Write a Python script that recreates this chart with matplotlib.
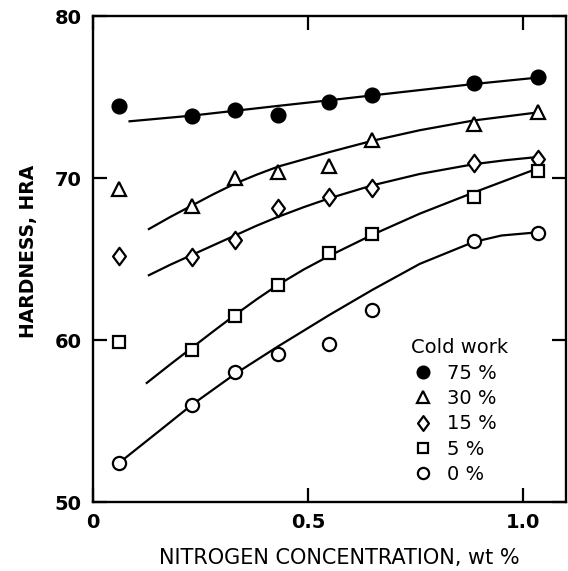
import matplotlib
matplotlib.use("Agg")
import matplotlib.pyplot as plt
from matplotlib.path import Path

plt.rcParams["font.family"] = ["DejaVu Sans"]

# measured points (nitrogen wt %, hardness HRA)
n_pts = [0.06, 0.23, 0.33, 0.43, 0.55, 0.65, 0.885, 1.035]
hra_75 = [74.45, 73.85, 74.2, 73.9, 74.7, 75.1, 75.85, 76.25]
hra_30 = [69.3, 68.25, 70.0, 70.4, 70.75, 72.35, 73.35, 74.05]
hra_15 = [65.2, 65.15, 66.2, 68.15, 68.8, 69.4, 70.9, 71.2]
hra_5 = [59.9, 59.4, 61.5, 63.4, 65.35, 66.55, 68.8, 70.45]
hra_0 = [52.4, 56.0, 58.05, 59.15, 59.75, 61.85, 66.1, 66.6]

# hand-drawn trend curves
fit_x_75 = [0.085, 0.23, 0.33, 0.43, 0.55, 0.65, 0.885, 1.035]
fit_y_75 = [73.5, 73.85, 74.15, 74.45, 74.8, 75.1, 75.8, 76.2]
fit_x_30 = [0.13, 0.18, 0.23, 0.28, 0.33, 0.38, 0.43, 0.49, 0.55, 0.65, 0.76, 0.885, 1.035]
fit_y_30 = [66.85, 67.6, 68.3, 69.0, 69.65, 70.2, 70.7, 71.15, 71.6, 72.3, 72.95, 73.55, 74.05]
fit_x_15 = [0.13, 0.18, 0.23, 0.28, 0.33, 0.38, 0.43, 0.49, 0.55, 0.65, 0.76, 0.885, 0.96, 1.035]
fit_y_15 = [64.0, 64.65, 65.25, 65.85, 66.45, 67.05, 67.6, 68.2, 68.75, 69.55, 70.25, 70.85, 71.1, 71.3]
fit_x_5 = [0.125, 0.18, 0.23, 0.28, 0.33, 0.38, 0.43, 0.49, 0.55, 0.65, 0.76, 0.885, 1.035]
fit_y_5 = [57.35, 58.5, 59.52, 60.54, 61.54, 62.5, 63.4, 64.35, 65.2, 66.5, 67.8, 69.1, 70.6]
fit_x_0 = [0.06, 0.15, 0.23, 0.33, 0.43, 0.55, 0.65, 0.76, 0.885, 0.95, 1.035]
fit_y_0 = [52.4, 54.3, 56.0, 57.9, 59.6, 61.55, 63.1, 64.7, 66.05, 66.45, 66.65]

labels = ["75 %", "30 %", "15 %", "5 %", "0 %"]

diamond = Path([(0, 1), (0.74, 0), (0, -1), (-0.74, 0), (0, 1)],
               [Path.MOVETO, Path.LINETO, Path.LINETO, Path.LINETO, Path.CLOSEPOLY])

series = [
    (hra_75, fit_x_75, fit_y_75, "o", 10, "black"),
    (hra_30, fit_x_30, fit_y_30, "^", 9.5, "white"),
    (hra_15, fit_x_15, fit_y_15, diamond, 12.5, "white"),
    (hra_5, fit_x_5, fit_y_5, "s", 9, "white"),
    (hra_0, fit_x_0, fit_y_0, "o", 9.5, "white"),
]

fig = plt.figure(figsize=(5.68, 5.71), dpi=100)
ax = fig.add_axes([93 / 568, 69 / 571, 473 / 568, 486 / 571])

for (vals, fx, fy, mk, ms, fc), lab in zip(series, labels):
    ax.plot(fx, fy, color="black", lw=1.6, zorder=2)
    ax.plot(n_pts, vals, linestyle="none", marker=mk, markersize=ms,
            markerfacecolor=fc, markeredgecolor="black", markeredgewidth=1.6,
            label=lab, zorder=3)

ax.set_xlim(0, 1.1)
ax.set_ylim(50, 80)
ax.set_xticks([0, 0.5, 1.0])
ax.set_xticklabels(["0", "0.5", "1.0"])
ax.set_yticks([50, 60, 70, 80])
ax.tick_params(direction="in", length=10, width=1.6, top=True, right=True,
               labelsize=14, pad=8)
for lbl in ax.get_xticklabels() + ax.get_yticklabels():
    lbl.set_fontweight("bold")
for sp in ax.spines.values():
    sp.set_linewidth(1.7)

ax.set_xlabel("NITROGEN CONCENTRATION, wt %", fontsize=15, va="center")
ax.xaxis.set_label_coords(0.52, -0.115)
ax.set_ylabel("HARDNESS, HRA", fontsize=13.5, fontweight="bold", va="center")
ax.yaxis.set_label_coords(-0.137, 0.516)

leg = ax.legend(title="Cold work", loc="upper left", bbox_to_anchor=(0.672, 0.337),
                frameon=False, fontsize=14, title_fontsize=14, alignment="left",
                handlelength=1.2, handletextpad=0.65, labelspacing=0.33,
                borderpad=0, borderaxespad=0, markerscale=0.85)

fig.savefig("out.png", dpi=100)
